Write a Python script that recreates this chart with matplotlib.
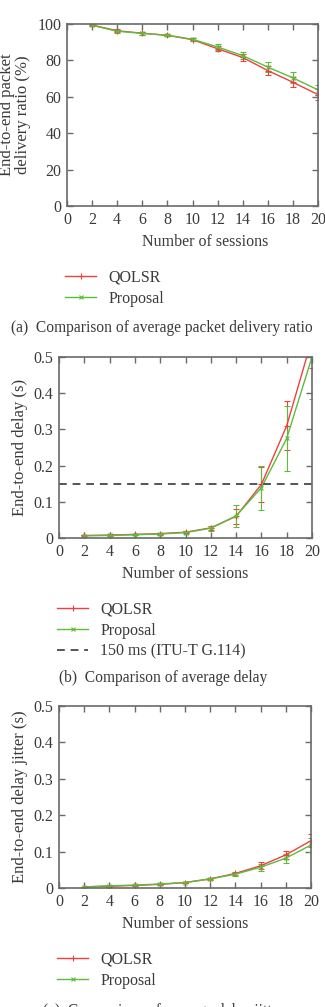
import matplotlib

matplotlib.use("Agg")
import matplotlib.pyplot as plt

plt.rcParams["font.family"] = ["Liberation Serif", "DejaVu Serif"]

RED = "#ee4040"
GREEN = "#5cbd3c"
FRAME = "#6a6a6a"
TEXT = "#3a3a3a"

sessions = [2, 4, 6, 8, 10, 12, 14, 16, 18, 20]

# (a) packet delivery ratio (%)
pdr_qolsr = [99.4, 96.3, 94.9, 93.8, 91.4, 86.4, 81.6, 74.4, 68.0, 61.2]
pdr_qolsr_err = [0.5, 0.8, 0.7, 0.6, 0.9, 1.5, 2.0, 2.5, 2.8, 3.2]
pdr_prop = [99.3, 96.0, 94.9, 93.8, 91.6, 87.4, 82.6, 76.3, 70.4, 63.8]
pdr_prop_err = [0.5, 0.8, 0.7, 0.6, 0.9, 1.6, 2.1, 2.6, 3.0, 2.6]

# (b) end-to-end delay (s)
delay_qolsr = [0.007, 0.008, 0.010, 0.012, 0.016, 0.028, 0.060, 0.148, 0.310, 0.550]
delay_qolsr_err = [0.002, 0.002, 0.002, 0.003, 0.003, 0.006, 0.020, 0.049, 0.068, 0.080]
delay_prop = [0.006, 0.007, 0.009, 0.011, 0.015, 0.027, 0.061, 0.139, 0.275, 0.500]
delay_prop_err = [0.002, 0.002, 0.002, 0.003, 0.003, 0.007, 0.031, 0.061, 0.090, 0.115]
itu_limit = 0.15

# (c) end-to-end delay jitter (s)
jit_qolsr = [0.003, 0.005, 0.007, 0.010, 0.015, 0.025, 0.040, 0.061, 0.091, 0.130]
jit_qolsr_err = [0.001, 0.001, 0.001, 0.002, 0.002, 0.003, 0.004, 0.010, 0.012, 0.018]
jit_prop = [0.003, 0.006, 0.008, 0.011, 0.015, 0.025, 0.038, 0.057, 0.082, 0.118]
jit_prop_err = [0.001, 0.001, 0.001, 0.002, 0.002, 0.003, 0.004, 0.010, 0.012, 0.019]

W, H = 325, 1007
FS = 11.5


def px_axes(left, right, top, bottom):
    return [left / W, 1 - bottom / H, (right - left) / W, (bottom - top) / H]


def style(ax, ylim, yticks, ylabel):
    ax.set_xlim(0, 20)
    ax.set_xticks(range(0, 21, 2))
    ax.set_ylim(*ylim)
    ax.set_yticks(yticks)
    for s in ax.spines.values():
        s.set_color(FRAME)
        s.set_linewidth(1.2)
    ax.tick_params(direction="in", top=True, right=True, length=4, width=1,
                   color=FRAME, labelcolor=TEXT, labelsize=FS, pad=4)
    ax.set_ylabel(ylabel, color=TEXT, fontsize=12, linespacing=1.0)
    ax.set_xlabel("Number of sessions", color=TEXT, fontsize=FS, labelpad=5)


def draw(ax, q, qe, p, pe):
    ax.errorbar(sessions, q, yerr=qe, fmt="none", ecolor=RED, elinewidth=0.8,
                capsize=2, capthick=0.8)
    ax.errorbar(sessions, p, yerr=pe, fmt="none", ecolor=GREEN, elinewidth=0.8,
                capsize=2, capthick=0.8)
    ax.plot(sessions, q, color=RED, lw=1.0, marker="+", ms=4, mew=0.8, label="QOLSR")
    ax.plot(sessions, p, color=GREEN, lw=1.0, marker="x", ms=3.5, mew=0.8, label="Proposal")


def legend(ax, y_top):
    # y_top in pixels of the figure
    ax.legend(loc="upper left", frameon=False, fontsize=FS, handlelength=1.9,
              handletextpad=0.8, labelspacing=0.3, borderpad=0, borderaxespad=0,
              labelcolor=TEXT,
              bbox_to_anchor=(ax.get_position().x0 - 0.005, 1 - y_top / H),
              bbox_transform=fig.transFigure)


fig = plt.figure(figsize=(W / 100, H / 100), dpi=100)

# (a)
ax1 = fig.add_axes(px_axes(67, 318, 24, 206))
draw(ax1, pdr_qolsr, pdr_qolsr_err, pdr_prop, pdr_prop_err)
style(ax1, (0, 100), range(0, 101, 20), "End-to-end packet\ndelivery ratio (%)")
ax1.yaxis.set_label_coords(-0.145, 0.5)
ax1.xaxis.set_label_coords(0.55, -0.155)
legend(ax1, 270)
fig.text(162 / W, 1 - 328 / H, "(a)  Comparison of average packet delivery ratio",
         ha="center", va="center", fontsize=11.2, color=TEXT)

# (b)
ax2 = fig.add_axes(px_axes(59, 312, 357, 538))
draw(ax2, delay_qolsr, delay_qolsr_err, delay_prop, delay_prop_err)
ax2.axhline(itu_limit, color="#555555", lw=1.4, dashes=(4, 3),
            label="150 ms (ITU-T G.114)")
style(ax2, (0, 0.5), [0, 0.1, 0.2, 0.3, 0.4, 0.5], "End-to-end delay (s)")
ax2.set_yticklabels(["0", "0.1", "0.2", "0.3", "0.4", "0.5"])
legend(ax2, 602)
fig.text(163 / W, 1 - 678 / H, "(b)  Comparison of average delay",
         ha="center", va="center", fontsize=11.2, color=TEXT)

# (c)
ax3 = fig.add_axes(px_axes(59, 311, 706, 888))
draw(ax3, jit_qolsr, jit_qolsr_err, jit_prop, jit_prop_err)
style(ax3, (0, 0.5), [0, 0.1, 0.2, 0.3, 0.4, 0.5], "End-to-end delay jitter (s)")
ax3.set_yticklabels(["0", "0.1", "0.2", "0.3", "0.4", "0.5"])
legend(ax3, 952)
fig.text(163 / W, 1 - 1011 / H, "(c)  Comparison of average delay jitter",
         ha="center", va="center", fontsize=11.2, color=TEXT)

fig.savefig("out.png", dpi=100)
